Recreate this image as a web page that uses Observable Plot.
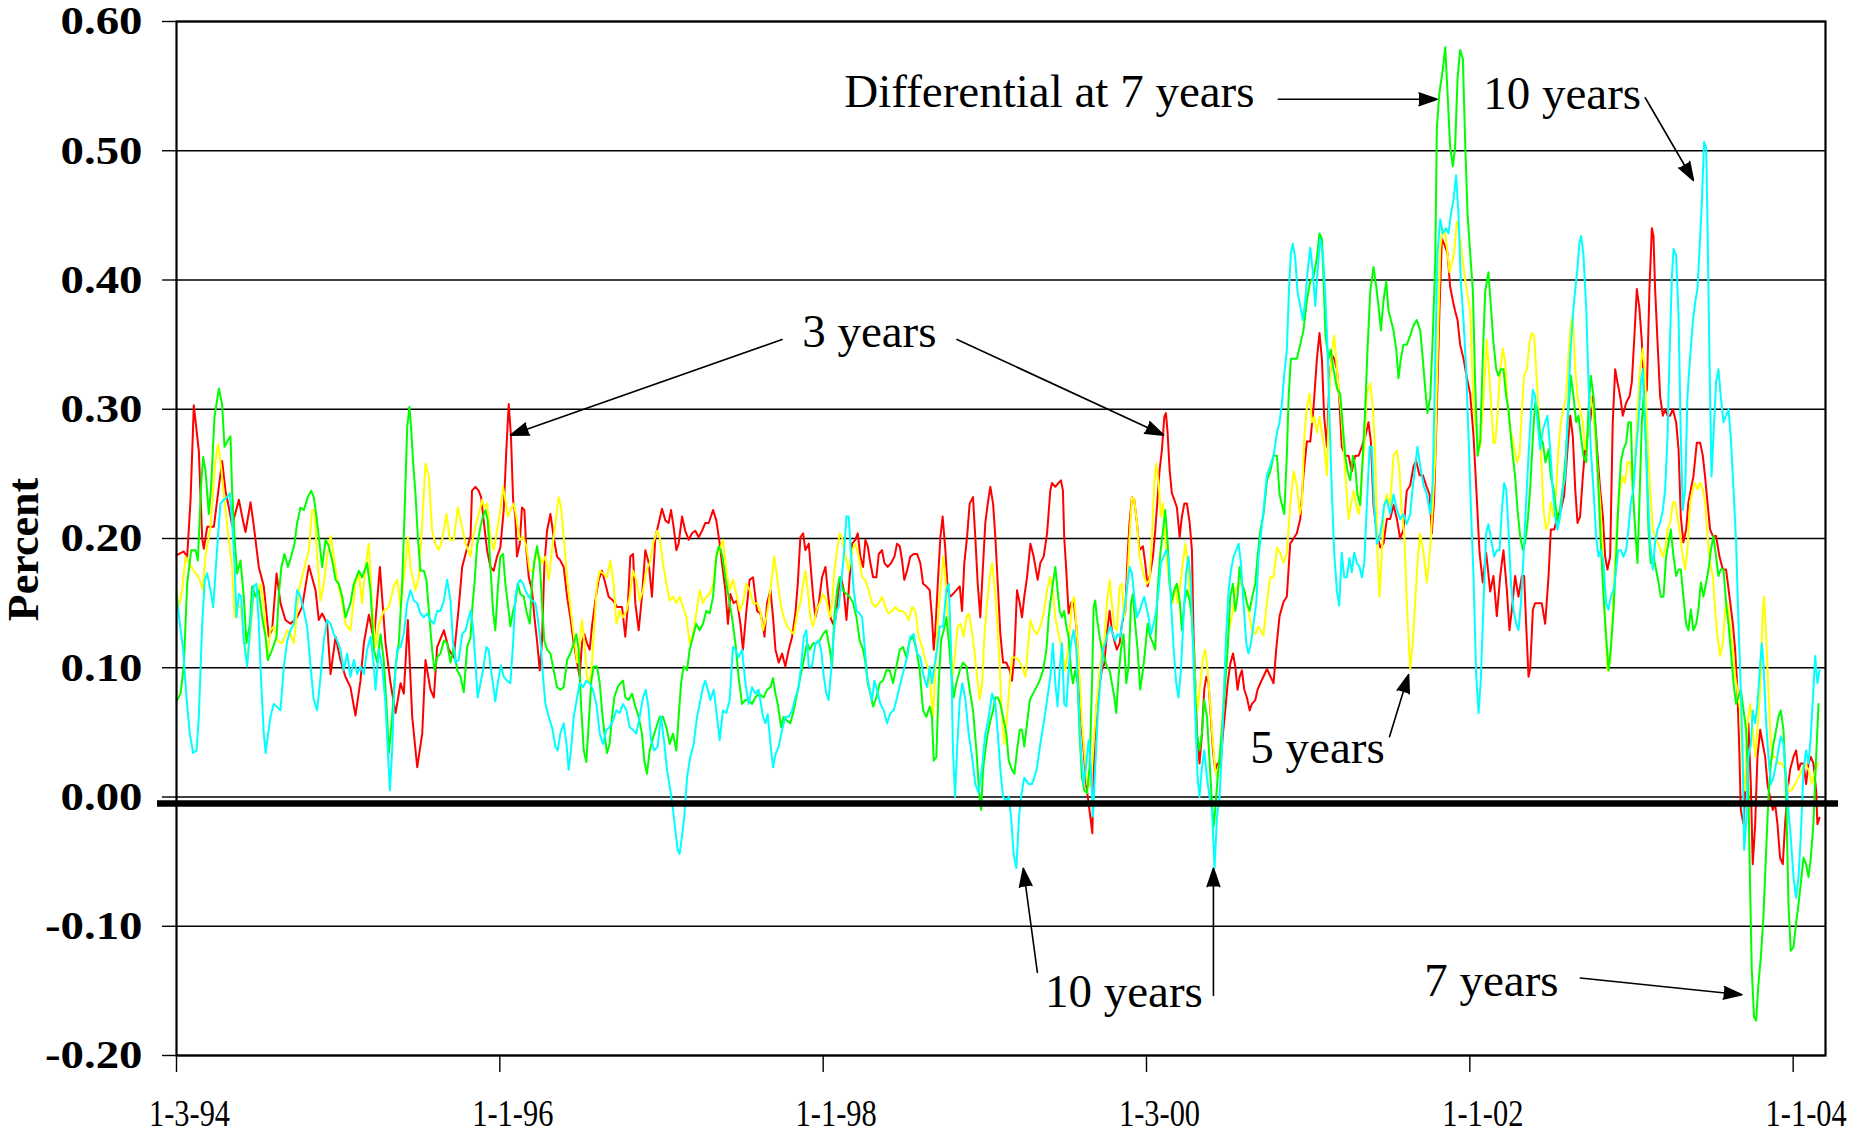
<!DOCTYPE html>
<html>
<head>
<meta charset="utf-8">
<script src="https://cdn.jsdelivr.net/npm/d3@7"></script>
<script src="https://cdn.jsdelivr.net/npm/@observablehq/plot@0.6"></script>
<style>
  html, body { margin: 0; padding: 0; background: #ffffff; }
  svg { display: block; }
</style>
</head>
<body>
<div id="chart"></div>
<script>
// ---------------- DATA (decimal year, percent) ----------------
const series3y = [
[1994.000,0.187],[1994.045,0.190],[1994.066,0.186],[1994.087,0.230],[1994.107,0.303],[1994.138,0.268],[1994.159,0.200],[1994.169,0.192],[1994.190,0.209],[1994.231,0.209],[1994.282,0.260],[1994.303,0.237],[1994.324,0.224],[1994.344,0.210],[1994.386,0.230],[1994.406,0.217],[1994.427,0.205],[1994.458,0.228],[1994.478,0.210],[1994.509,0.178],[1994.540,0.163],[1994.571,0.124],[1994.592,0.130],[1994.619,0.173],[1994.643,0.150],[1994.674,0.137],[1994.705,0.134],[1994.746,0.139],[1994.777,0.147],[1994.819,0.179],[1994.860,0.160],[1994.880,0.137],[1994.901,0.142],[1994.932,0.134],[1994.953,0.095],[1994.984,0.124],[1995.014,0.106],[1995.045,0.093],[1995.076,0.085],[1995.107,0.063],[1995.138,0.090],[1995.159,0.119],[1995.190,0.141],[1995.221,0.121],[1995.258,0.178],[1995.293,0.119],[1995.324,0.088],[1995.355,0.065],[1995.386,0.088],[1995.406,0.080],[1995.431,0.137],[1995.458,0.062],[1995.489,0.023],[1995.520,0.049],[1995.540,0.106],[1995.571,0.083],[1995.592,0.077],[1995.612,0.116],[1995.654,0.129],[1995.685,0.114],[1995.715,0.108],[1995.746,0.147],[1995.767,0.178],[1995.788,0.188],[1995.819,0.202],
[1995.828,0.237],[1995.849,0.240],[1995.869,0.237],[1995.884,0.232],[1995.900,0.214],[1995.921,0.191],[1995.942,0.178],[1995.962,0.175],[1995.983,0.186],[1996.003,0.193],[1996.024,0.222],[1996.040,0.268],[1996.055,0.304],[1996.069,0.279],[1996.082,0.230],[1996.096,0.217],[1996.106,0.186],[1996.123,0.196],[1996.137,0.224],[1996.152,0.222],[1996.164,0.191],[1996.179,0.170],[1996.199,0.160],[1996.214,0.139],[1996.230,0.121],[1996.247,0.098],[1996.261,0.121],[1996.275,0.178],[1996.292,0.206],[1996.313,0.219],[1996.333,0.201],[1996.354,0.186],[1996.374,0.183],[1996.395,0.178],[1996.416,0.155],[1996.436,0.139],[1996.457,0.119],[1996.478,0.104],[1996.494,0.093],[1996.508,0.119],[1996.523,0.126],[1996.539,0.119],[1996.556,0.114],[1996.570,0.132],[1996.591,0.152],[1996.611,0.168],[1996.632,0.175],[1996.653,0.165],[1996.673,0.155],[1996.700,0.152],[1996.725,0.147],[1996.756,0.147],[1996.776,0.124],[1996.791,0.147],[1996.807,0.186],[1996.824,0.188],[1996.838,0.150],[1996.859,0.129],[1996.879,0.155],[1996.900,0.191],[1996.921,0.181],[1996.941,0.155],[1996.962,0.201],[1996.983,0.212],[1997.003,0.223],[1997.024,0.214],[1997.044,0.212],[1997.059,0.222],[1997.075,0.209],[1997.092,0.191],[1997.106,0.196],[1997.127,0.217],[1997.147,0.206],[1997.168,0.199],[1997.189,0.204],[1997.209,0.206],[1997.230,0.201],[1997.251,0.206],[1997.271,0.212],[1997.292,0.212],[1997.319,0.222],[1997.339,0.214],[1997.360,0.196],[1997.374,0.181],[1997.395,0.160],[1997.411,0.134],[1997.426,0.157],[1997.446,0.150],[1997.467,0.152],[1997.488,0.134],[1997.504,0.114],[1997.525,0.144],[1997.545,0.168],[1997.566,0.170],[1997.591,0.144],[1997.611,0.142],
[1997.622,0.137],[1997.637,0.124],[1997.653,0.150],[1997.674,0.160],[1997.690,0.139],[1997.705,0.114],[1997.725,0.104],[1997.746,0.111],[1997.766,0.101],[1997.787,0.114],[1997.808,0.124],[1997.828,0.142],[1997.843,0.165],[1997.859,0.201],[1997.876,0.204],[1997.890,0.191],[1997.911,0.196],[1997.921,0.181],[1997.938,0.155],[1997.952,0.139],[1997.973,0.150],[1997.993,0.170],[1998.014,0.178],[1998.028,0.160],[1998.045,0.139],[1998.061,0.134],[1998.076,0.137],[1998.096,0.160],[1998.111,0.170],[1998.127,0.160],[1998.144,0.137],[1998.158,0.160],[1998.179,0.196],[1998.199,0.199],[1998.214,0.204],[1998.230,0.186],[1998.247,0.178],[1998.261,0.199],[1998.276,0.194],[1998.292,0.181],[1998.309,0.170],[1998.329,0.170],[1998.344,0.188],[1998.364,0.191],[1998.379,0.181],[1998.399,0.178],[1998.420,0.181],[1998.441,0.186],[1998.457,0.196],[1998.474,0.194],[1998.488,0.183],[1998.502,0.168],[1998.519,0.175],[1998.539,0.186],[1998.560,0.188],[1998.581,0.188],[1998.601,0.181],[1998.618,0.165],[1998.638,0.163],[1998.659,0.160],[1998.673,0.139],[1998.684,0.114],[1998.694,0.129],[1998.709,0.165],[1998.725,0.201],[1998.739,0.217],[1998.756,0.191],[1998.770,0.160],[1998.787,0.155],[1998.803,0.157],[1998.824,0.160],[1998.845,0.163],[1998.859,0.144],[1998.873,0.181],[1998.890,0.201],[1998.906,0.227],[1998.927,0.232],[1998.941,0.201],[1998.956,0.165],[1998.972,0.139],[1998.987,0.175],[1999.003,0.212],[1999.018,0.227],[1999.034,0.240],[1999.051,0.227],[1999.065,0.201],[1999.080,0.165],[1999.096,0.126],[1999.113,0.104],[1999.133,0.104],[1999.154,0.098],[1999.168,0.090],[1999.183,0.111],[1999.199,0.160],[1999.216,0.150],[1999.230,0.139],[1999.244,0.155],[1999.261,0.170],[1999.282,0.196],[1999.302,0.186],[1999.327,0.168],[1999.343,0.181],[1999.364,0.186],[1999.385,0.204],[1999.405,0.237],
[1999.415,0.243],[1999.436,0.240],[1999.456,0.243],[1999.471,0.245],[1999.483,0.237],[1999.491,0.201],[1999.504,0.175],[1999.518,0.142],[1999.533,0.150],[1999.549,0.152],[1999.566,0.132],[1999.580,0.101],[1999.594,0.062],[1999.611,0.036],[1999.627,0.010],[1999.642,-0.005],[1999.665,-0.028],[1999.677,0.036],[1999.693,0.072],[1999.710,0.088],[1999.724,0.098],[1999.739,0.103],[1999.755,0.126],[1999.772,0.144],[1999.786,0.129],[1999.801,0.121],[1999.817,0.114],[1999.834,0.119],[1999.848,0.134],[1999.869,0.144],[1999.883,0.186],[1999.895,0.212],[1999.910,0.232],[1999.924,0.230],[1999.941,0.212],[1999.957,0.191],[1999.978,0.194],[1999.992,0.181],[2000.007,0.163],[2000.023,0.173],[2000.040,0.186],[2000.054,0.206],[2000.069,0.232],[2000.081,0.253],[2000.095,0.268],[2000.110,0.294],[2000.120,0.297],[2000.130,0.283],[2000.143,0.253],[2000.157,0.235],[2000.172,0.230],[2000.188,0.224],[2000.205,0.201],[2000.219,0.217],[2000.234,0.227],[2000.250,0.227],[2000.267,0.212],[2000.281,0.191],[2000.291,0.126],[2000.302,0.088],[2000.312,0.049],[2000.328,0.026],[2000.343,0.049],[2000.357,0.083],[2000.370,0.093],[2000.384,0.088],[2000.398,0.062],[2000.411,0.036],[2000.425,0.021],[2000.440,0.026],[2000.456,0.023],[2000.473,0.049],[2000.487,0.067],[2000.502,0.088],[2000.518,0.103],[2000.535,0.111],[2000.549,0.101],[2000.563,0.083],[2000.576,0.093],[2000.590,0.098],[2000.605,0.083],[2000.621,0.077],[2000.638,0.067],[2000.652,0.072],[2000.673,0.075],[2000.687,0.083],[2000.704,0.088],
[2000.745,0.099],[2000.786,0.088],[2000.802,0.114],[2000.823,0.140],[2000.848,0.151],[2000.868,0.155],[2000.889,0.196],[2000.910,0.200],[2000.930,0.204],[2000.951,0.215],[2000.971,0.249],[2000.992,0.275],[2001.013,0.275],[2001.033,0.301],[2001.054,0.339],[2001.070,0.359],[2001.085,0.339],[2001.099,0.294],[2001.116,0.271],[2001.132,0.324],[2001.147,0.342],[2001.161,0.339],[2001.178,0.331],[2001.194,0.305],[2001.208,0.271],[2001.229,0.264],[2001.250,0.264],[2001.270,0.252],[2001.291,0.264],[2001.312,0.264],[2001.332,0.271],[2001.353,0.279],[2001.373,0.290],[2001.388,0.275],[2001.404,0.226],[2001.425,0.204],[2001.446,0.193],[2001.466,0.196],[2001.487,0.215],[2001.507,0.215],[2001.528,0.226],[2001.549,0.215],[2001.569,0.200],[2001.590,0.207],[2001.610,0.237],[2001.631,0.241],[2001.652,0.256],[2001.668,0.260],[2001.689,0.249],[2001.709,0.249],[2001.730,0.241],[2001.751,0.234],[2001.765,0.204],[2001.779,0.230],[2001.796,0.301],[2001.812,0.376],[2001.827,0.432],[2001.841,0.428],[2001.862,0.421],[2001.878,0.395],[2001.895,0.384],[2001.909,0.376],[2001.924,0.369],[2001.940,0.350],[2001.961,0.339],[2001.982,0.324],[2002.002,0.312],[2002.023,0.279],[2002.039,0.241],[2002.060,0.189],[2002.080,0.166],[2002.101,0.189],[2002.126,0.159],
[2002.146,0.171],[2002.167,0.140],[2002.188,0.171],[2002.208,0.191],[2002.229,0.160],[2002.245,0.129],[2002.260,0.145],[2002.280,0.171],[2002.301,0.155],[2002.322,0.171],[2002.336,0.171],[2002.348,0.134],[2002.363,0.093],[2002.373,0.099],[2002.390,0.145],[2002.404,0.150],[2002.425,0.150],[2002.445,0.150],[2002.466,0.134],[2002.487,0.171],[2002.501,0.207],[2002.522,0.207],[2002.542,0.217],[2002.563,0.222],[2002.583,0.233],[2002.604,0.269],[2002.621,0.295],[2002.637,0.279],[2002.652,0.238],[2002.666,0.212],[2002.682,0.217],[2002.699,0.248],[2002.713,0.269],[2002.728,0.279],[2002.744,0.290],[2002.761,0.310],[2002.775,0.290],[2002.790,0.264],[2002.806,0.238],[2002.823,0.217],[2002.837,0.186],[2002.851,0.176],[2002.868,0.186],[2002.884,0.290],[2002.899,0.331],[2002.913,0.321],[2002.930,0.310],[2002.946,0.295],[2002.967,0.305],[2002.988,0.310],[2003.002,0.321],[2003.016,0.352],[2003.033,0.393],[2003.049,0.378],[2003.064,0.352],[2003.078,0.310],[2003.095,0.315],[2003.111,0.393],[2003.126,0.440],[2003.136,0.434],[2003.146,0.393],[2003.161,0.352],[2003.177,0.310],[2003.194,0.295],[2003.208,0.300],[2003.223,0.295],[2003.239,0.295],[2003.256,0.300],[2003.276,0.290],[2003.291,0.269],[2003.305,0.217],[2003.321,0.197],[2003.338,0.207],[2003.352,0.228],[2003.367,0.238],[2003.383,0.248],[2003.404,0.274],[2003.425,0.274],[2003.441,0.264],[2003.455,0.248],[2003.470,0.228],[2003.486,0.207],[2003.503,0.202],[2003.523,0.202],[2003.544,0.186],[2003.565,0.176],[2003.585,0.176],[2003.606,0.155],[2003.627,0.134],[2003.641,0.114],[2003.655,0.083],[2003.668,0.031],[2003.676,-0.010],[2003.693,-0.021],[2003.709,0.021],[2003.723,0.057],[2003.738,0.010],[2003.750,-0.052],[2003.765,-0.021],[2003.779,0.031],[2003.796,0.052],[2003.812,0.041],[2003.827,0.031],[2003.841,0.010],[2003.857,0.000],[2003.874,-0.010],[2003.888,-0.005],[2003.903,-0.021],[2003.919,-0.047],[2003.936,-0.052],[2003.950,-0.021],[2003.965,0.005],[2003.981,0.021],[2004.002,0.031],[2004.018,0.036],[2004.033,0.021],[2004.047,0.026],[2004.064,0.026],[2004.080,0.010],[2004.095,0.026],[2004.109,0.031],[2004.125,0.026],[2004.142,0.005],[2004.150,-0.021],[2004.163,-0.016]
];

const series5y = [
[1994.000,0.160],[1994.014,0.147],[1994.035,0.160],[1994.056,0.186],[1994.076,0.181],[1994.107,0.175],[1994.138,0.170],[1994.163,0.160],[1994.179,0.186],[1994.210,0.209],[1994.241,0.261],[1994.258,0.273],[1994.276,0.255],[1994.303,0.222],[1994.330,0.192],[1994.344,0.178],[1994.359,0.139],[1994.375,0.149],[1994.396,0.147],[1994.416,0.126],[1994.437,0.104],[1994.454,0.124],[1994.478,0.155],[1994.503,0.160],[1994.520,0.165],[1994.540,0.149],[1994.561,0.108],[1994.581,0.129],[1994.602,0.132],[1994.623,0.121],[1994.654,0.119],[1994.685,0.129],[1994.705,0.126],[1994.726,0.119],[1994.757,0.160],[1994.777,0.170],[1994.798,0.181],[1994.819,0.191],[1994.839,0.222],[1994.854,0.222],[1994.870,0.186],[1994.891,0.152],[1994.911,0.165],[1994.932,0.186],[1994.953,0.202],[1994.973,0.186],[1994.994,0.168],[1995.025,0.150],[1995.045,0.134],[1995.076,0.129],[1995.107,0.165],[1995.128,0.173],[1995.148,0.150],[1995.169,0.178],[1995.190,0.196],[1995.210,0.147],[1995.231,0.116],[1995.252,0.134],[1995.282,0.144],[1995.313,0.147],[1995.344,0.163],[1995.365,0.168],[1995.386,0.147],[1995.406,0.170],[1995.431,0.201],[1995.447,0.178],[1995.478,0.160],[1995.499,0.170],[1995.520,0.212],[1995.540,0.258],[1995.561,0.248],[1995.581,0.206],[1995.602,0.196],[1995.623,0.191],[1995.643,0.199],[1995.670,0.219],[1995.691,0.199],[1995.715,0.199],[1995.740,0.224],[1995.761,0.212],[1995.788,0.196],[1995.819,0.186],
[1995.834,0.201],[1995.855,0.212],[1995.876,0.222],[1995.890,0.230],[1995.904,0.224],[1995.921,0.227],[1995.942,0.201],[1995.962,0.191],[1995.983,0.206],[1996.003,0.222],[1996.020,0.240],[1996.034,0.230],[1996.049,0.217],[1996.065,0.222],[1996.086,0.227],[1996.102,0.217],[1996.123,0.199],[1996.144,0.201],[1996.164,0.194],[1996.185,0.175],[1996.205,0.175],[1996.226,0.188],[1996.247,0.186],[1996.261,0.181],[1996.282,0.186],[1996.302,0.168],[1996.323,0.191],[1996.344,0.212],[1996.364,0.232],[1996.379,0.224],[1996.395,0.201],[1996.416,0.170],[1996.436,0.147],[1996.457,0.126],[1996.478,0.104],[1996.494,0.119],[1996.508,0.137],[1996.523,0.119],[1996.539,0.093],[1996.556,0.088],[1996.570,0.104],[1996.585,0.134],[1996.601,0.165],[1996.618,0.175],[1996.638,0.173],[1996.663,0.170],[1996.684,0.183],[1996.704,0.165],[1996.721,0.134],[1996.741,0.144],[1996.762,0.139],[1996.783,0.144],[1996.803,0.155],[1996.824,0.175],[1996.844,0.168],[1996.865,0.152],[1996.886,0.160],[1996.906,0.175],[1996.927,0.181],[1996.948,0.196],[1996.972,0.206],[1996.989,0.201],[1997.009,0.181],[1997.030,0.165],[1997.051,0.152],[1997.071,0.155],[1997.092,0.150],[1997.112,0.155],[1997.133,0.147],[1997.154,0.139],[1997.174,0.119],[1997.195,0.126],[1997.215,0.142],[1997.236,0.160],[1997.257,0.150],[1997.277,0.155],[1997.298,0.157],[1997.319,0.165],[1997.339,0.186],[1997.360,0.191],[1997.380,0.199],[1997.401,0.175],[1997.422,0.160],[1997.442,0.168],[1997.463,0.157],[1997.483,0.144],[1997.504,0.150],[1997.525,0.165],[1997.545,0.160],[1997.566,0.150],[1997.591,0.150],[1997.611,0.144],
[1997.628,0.129],[1997.649,0.139],[1997.663,0.150],[1997.678,0.165],[1997.698,0.186],[1997.715,0.170],[1997.736,0.150],[1997.756,0.139],[1997.777,0.132],[1997.797,0.129],[1997.818,0.126],[1997.839,0.142],[1997.859,0.150],[1997.876,0.165],[1997.890,0.175],[1997.905,0.160],[1997.921,0.139],[1997.938,0.132],[1997.958,0.144],[1997.979,0.150],[1997.999,0.157],[1998.020,0.152],[1998.041,0.139],[1998.055,0.150],[1998.069,0.175],[1998.086,0.191],[1998.102,0.204],[1998.117,0.201],[1998.138,0.186],[1998.158,0.175],[1998.179,0.191],[1998.199,0.196],[1998.220,0.186],[1998.241,0.170],[1998.261,0.168],[1998.282,0.160],[1998.302,0.150],[1998.323,0.147],[1998.344,0.150],[1998.364,0.155],[1998.385,0.147],[1998.405,0.142],[1998.426,0.144],[1998.447,0.147],[1998.467,0.144],[1998.488,0.144],[1998.509,0.142],[1998.529,0.137],[1998.550,0.147],[1998.570,0.144],[1998.591,0.124],[1998.612,0.116],[1998.632,0.106],[1998.653,0.098],[1998.667,0.080],[1998.680,0.062],[1998.694,0.098],[1998.709,0.137],[1998.725,0.160],[1998.742,0.186],[1998.756,0.170],[1998.770,0.139],[1998.787,0.116],[1998.803,0.095],[1998.818,0.114],[1998.832,0.132],[1998.849,0.134],[1998.869,0.124],[1998.886,0.139],[1998.902,0.142],[1998.919,0.129],[1998.935,0.114],[1998.952,0.093],[1998.968,0.075],[1998.983,0.088],[1998.997,0.124],[1999.014,0.150],[1999.030,0.170],[1999.045,0.181],[1999.059,0.165],[1999.075,0.139],[1999.092,0.101],[1999.106,0.062],[1999.121,0.041],[1999.137,0.062],[1999.154,0.088],[1999.168,0.108],[1999.189,0.108],[1999.209,0.106],[1999.230,0.101],[1999.251,0.093],[1999.265,0.114],[1999.282,0.137],[1999.302,0.129],[1999.323,0.126],[1999.343,0.132],[1999.364,0.142],[1999.385,0.160],[1999.405,0.170],
[1999.421,0.160],[1999.436,0.139],[1999.456,0.126],[1999.477,0.114],[1999.498,0.098],[1999.518,0.119],[1999.539,0.150],[1999.553,0.155],[1999.570,0.126],[1999.586,0.093],[1999.601,0.057],[1999.615,0.036],[1999.632,0.010],[1999.648,0.008],[1999.663,0.023],[1999.677,0.049],[1999.693,0.075],[1999.710,0.098],[1999.724,0.114],[1999.739,0.121],[1999.755,0.150],[1999.772,0.168],[1999.786,0.150],[1999.801,0.132],[1999.817,0.129],[1999.834,0.163],[1999.848,0.165],[1999.862,0.139],[1999.879,0.160],[1999.895,0.201],[1999.910,0.232],[1999.924,0.230],[1999.941,0.212],[1999.957,0.186],[1999.972,0.178],[1999.986,0.170],[2000.003,0.165],[2000.019,0.168],[2000.034,0.201],[2000.048,0.243],[2000.060,0.258],[2000.075,0.243],[2000.089,0.217],[2000.102,0.227],[2000.116,0.201],[2000.130,0.178],[2000.147,0.160],[2000.163,0.150],[2000.178,0.163],[2000.192,0.150],[2000.209,0.165],[2000.225,0.181],[2000.240,0.196],[2000.254,0.181],[2000.271,0.150],[2000.287,0.124],[2000.302,0.088],[2000.316,0.067],[2000.333,0.088],[2000.349,0.108],[2000.363,0.114],[2000.378,0.098],[2000.394,0.072],[2000.411,0.041],[2000.425,0.021],[2000.440,0.015],[2000.456,0.036],[2000.473,0.070],[2000.487,0.098],[2000.502,0.124],[2000.518,0.134],[2000.535,0.144],[2000.549,0.160],[2000.570,0.165],[2000.590,0.165],[2000.605,0.160],[2000.621,0.150],[2000.638,0.139],[2000.652,0.129],[2000.673,0.126],[2000.693,0.132],
[2000.724,0.125],[2000.745,0.151],[2000.765,0.170],[2000.786,0.170],[2000.807,0.193],[2000.827,0.189],[2000.848,0.181],[2000.868,0.189],[2000.889,0.226],[2000.910,0.252],[2000.930,0.241],[2000.947,0.219],[2000.961,0.226],[2000.976,0.279],[2000.992,0.301],[2001.009,0.312],[2001.023,0.290],[2001.037,0.294],[2001.054,0.282],[2001.070,0.294],[2001.085,0.282],[2001.099,0.271],[2001.116,0.249],[2001.132,0.316],[2001.147,0.346],[2001.161,0.357],[2001.173,0.339],[2001.188,0.316],[2001.202,0.301],[2001.219,0.271],[2001.235,0.241],[2001.250,0.215],[2001.264,0.226],[2001.281,0.237],[2001.297,0.226],[2001.314,0.219],[2001.332,0.252],[2001.347,0.271],[2001.363,0.312],[2001.384,0.320],[2001.400,0.301],[2001.415,0.264],[2001.429,0.189],[2001.441,0.155],[2001.456,0.189],[2001.470,0.226],[2001.487,0.234],[2001.507,0.226],[2001.528,0.264],[2001.549,0.268],[2001.565,0.252],[2001.580,0.219],[2001.594,0.204],[2001.610,0.151],[2001.631,0.099],[2001.648,0.121],[2001.662,0.151],[2001.676,0.181],[2001.693,0.204],[2001.714,0.189],[2001.734,0.166],[2001.755,0.193],[2001.771,0.226],[2001.786,0.264],[2001.800,0.339],[2001.817,0.425],[2001.833,0.440],[2001.848,0.436],[2001.862,0.421],[2001.874,0.406],[2001.889,0.413],[2001.903,0.421],[2001.920,0.445],[2001.934,0.438],[2001.951,0.421],[2001.965,0.406],[2001.982,0.391],[2002.002,0.376],[2002.023,0.301],[2002.043,0.279],[2002.064,0.271],[2002.085,0.309],[2002.105,0.354],[2002.126,0.316],
[2002.146,0.274],[2002.157,0.274],[2002.171,0.295],[2002.188,0.331],[2002.204,0.347],[2002.219,0.336],[2002.233,0.305],[2002.250,0.284],[2002.270,0.274],[2002.291,0.259],[2002.307,0.264],[2002.322,0.300],[2002.336,0.326],[2002.353,0.331],[2002.369,0.352],[2002.384,0.359],[2002.398,0.357],[2002.410,0.331],[2002.425,0.300],[2002.439,0.269],[2002.456,0.222],[2002.472,0.207],[2002.487,0.212],[2002.501,0.228],[2002.518,0.217],[2002.534,0.238],[2002.548,0.269],[2002.563,0.290],[2002.579,0.300],[2002.596,0.310],[2002.610,0.341],[2002.625,0.367],[2002.637,0.372],[2002.652,0.331],[2002.666,0.310],[2002.682,0.300],[2002.699,0.290],[2002.713,0.269],[2002.728,0.279],[2002.744,0.310],[2002.761,0.300],[2002.775,0.279],[2002.790,0.253],[2002.806,0.228],[2002.823,0.186],[2002.837,0.134],[2002.851,0.098],[2002.868,0.104],[2002.884,0.145],[2002.899,0.186],[2002.913,0.217],[2002.930,0.238],[2002.946,0.248],[2002.961,0.243],[2002.975,0.259],[2002.992,0.259],[2003.008,0.238],[2003.023,0.264],[2003.037,0.300],[2003.053,0.331],[2003.070,0.347],[2003.084,0.326],[2003.099,0.279],[2003.115,0.238],[2003.132,0.207],[2003.146,0.202],[2003.161,0.197],[2003.177,0.192],[2003.194,0.186],[2003.208,0.192],[2003.223,0.207],[2003.239,0.212],[2003.256,0.228],[2003.270,0.228],[2003.284,0.217],[2003.301,0.202],[2003.317,0.186],[2003.332,0.176],[2003.346,0.192],[2003.363,0.228],[2003.379,0.238],[2003.394,0.243],[2003.408,0.238],[2003.425,0.243],[2003.441,0.238],[2003.455,0.228],[2003.470,0.202],[2003.486,0.181],[2003.503,0.171],[2003.517,0.145],[2003.532,0.124],[2003.548,0.109],[2003.565,0.119],[2003.579,0.145],[2003.594,0.150],[2003.610,0.134],[2003.627,0.114],[2003.641,0.093],[2003.655,0.083],[2003.672,0.067],[2003.688,0.021],[2003.703,0.005],[2003.717,0.057],[2003.734,0.072],[2003.750,0.052],[2003.765,0.031],[2003.779,0.052],[2003.796,0.083],[2003.812,0.145],[2003.820,0.155],[2003.833,0.124],[2003.847,0.083],[2003.862,0.041],[2003.878,0.031],[2003.895,0.031],[2003.909,0.026],[2003.930,0.026],[2003.950,0.021],[2003.971,0.005],[2003.991,0.005],[2004.012,0.010],[2004.033,0.015],[2004.053,0.021],[2004.074,0.026],[2004.095,0.021],[2004.115,0.010],[2004.136,0.021],[2004.156,0.026]
];

const series7y = [
[1994.000,0.074],[1994.025,0.080],[1994.045,0.101],[1994.066,0.165],[1994.091,0.191],[1994.118,0.191],[1994.132,0.183],[1994.153,0.243],[1994.165,0.263],[1994.179,0.253],[1994.200,0.219],[1994.214,0.240],[1994.235,0.294],[1994.262,0.316],[1994.282,0.304],[1994.297,0.271],[1994.318,0.276],[1994.334,0.279],[1994.344,0.237],[1994.359,0.201],[1994.375,0.173],[1994.396,0.183],[1994.416,0.155],[1994.433,0.119],[1994.454,0.134],[1994.468,0.163],[1994.489,0.155],[1994.509,0.160],[1994.530,0.139],[1994.551,0.124],[1994.565,0.106],[1994.592,0.114],[1994.619,0.124],[1994.633,0.157],[1994.649,0.178],[1994.668,0.188],[1994.689,0.178],[1994.709,0.186],[1994.730,0.196],[1994.746,0.212],[1994.767,0.224],[1994.788,0.222],[1994.812,0.232],[1994.833,0.237],[1994.849,0.232],[1994.866,0.217],[1994.885,0.196],[1994.901,0.178],[1994.922,0.199],[1994.942,0.194],[1994.963,0.183],[1994.984,0.168],[1995.004,0.165],[1995.025,0.155],[1995.045,0.139],[1995.076,0.150],[1995.097,0.165],[1995.128,0.175],[1995.148,0.170],[1995.179,0.181],[1995.200,0.160],[1995.221,0.114],[1995.241,0.104],[1995.262,0.126],[1995.282,0.106],[1995.303,0.062],[1995.313,0.034],[1995.334,0.062],[1995.355,0.101],[1995.375,0.119],[1995.396,0.165],[1995.410,0.217],[1995.427,0.286],[1995.441,0.302],[1995.452,0.284],[1995.464,0.258],[1995.478,0.235],[1995.493,0.201],[1995.509,0.175],[1995.530,0.175],[1995.546,0.168],[1995.561,0.144],[1995.581,0.114],[1995.596,0.098],[1995.612,0.108],[1995.633,0.111],[1995.654,0.121],[1995.674,0.119],[1995.695,0.104],[1995.715,0.116],[1995.736,0.098],[1995.757,0.093],[1995.777,0.081],[1995.798,0.116],[1995.819,0.124],
[1995.828,0.144],[1995.843,0.165],[1995.859,0.194],[1995.880,0.209],[1995.896,0.217],[1995.911,0.222],[1995.925,0.214],[1995.942,0.178],[1995.958,0.144],[1995.972,0.129],[1995.987,0.160],[1996.003,0.186],[1996.020,0.188],[1996.034,0.165],[1996.049,0.150],[1996.065,0.132],[1996.082,0.144],[1996.096,0.150],[1996.111,0.165],[1996.127,0.157],[1996.148,0.155],[1996.164,0.144],[1996.185,0.134],[1996.199,0.165],[1996.214,0.183],[1996.230,0.194],[1996.247,0.181],[1996.261,0.150],[1996.275,0.121],[1996.292,0.114],[1996.313,0.111],[1996.333,0.098],[1996.354,0.085],[1996.374,0.083],[1996.395,0.085],[1996.416,0.106],[1996.436,0.111],[1996.457,0.119],[1996.473,0.126],[1996.488,0.114],[1996.502,0.072],[1996.519,0.036],[1996.535,0.027],[1996.550,0.057],[1996.566,0.090],[1996.581,0.101],[1996.601,0.101],[1996.618,0.088],[1996.632,0.067],[1996.647,0.049],[1996.663,0.034],[1996.679,0.041],[1996.694,0.062],[1996.708,0.077],[1996.729,0.085],[1996.745,0.088],[1996.762,0.090],[1996.776,0.077],[1996.797,0.075],[1996.818,0.080],[1996.838,0.070],[1996.859,0.062],[1996.879,0.049],[1996.894,0.028],[1996.910,0.018],[1996.927,0.036],[1996.948,0.046],[1996.968,0.054],[1996.989,0.062],[1997.009,0.062],[1997.030,0.054],[1997.051,0.041],[1997.071,0.049],[1997.092,0.036],[1997.106,0.062],[1997.121,0.088],[1997.137,0.101],[1997.158,0.098],[1997.174,0.114],[1997.195,0.124],[1997.215,0.134],[1997.236,0.129],[1997.257,0.134],[1997.277,0.144],[1997.298,0.142],[1997.319,0.155],[1997.339,0.186],[1997.354,0.194],[1997.374,0.188],[1997.395,0.170],[1997.415,0.155],[1997.436,0.139],[1997.457,0.119],[1997.477,0.093],[1997.498,0.072],[1997.519,0.075],[1997.539,0.075],[1997.560,0.072],[1997.580,0.077],[1997.601,0.080],
[1997.632,0.077],[1997.653,0.083],[1997.674,0.085],[1997.690,0.092],[1997.705,0.080],[1997.719,0.072],[1997.740,0.054],[1997.756,0.062],[1997.777,0.059],[1997.797,0.057],[1997.818,0.067],[1997.839,0.080],[1997.859,0.093],[1997.880,0.106],[1997.900,0.119],[1997.917,0.114],[1997.938,0.119],[1997.958,0.119],[1997.979,0.121],[1997.999,0.126],[1998.020,0.129],[1998.041,0.114],[1998.055,0.101],[1998.069,0.139],[1998.086,0.160],[1998.102,0.170],[1998.123,0.160],[1998.144,0.157],[1998.164,0.155],[1998.185,0.150],[1998.206,0.139],[1998.226,0.121],[1998.247,0.114],[1998.261,0.104],[1998.276,0.088],[1998.292,0.080],[1998.309,0.070],[1998.329,0.077],[1998.350,0.088],[1998.370,0.090],[1998.391,0.098],[1998.412,0.098],[1998.432,0.088],[1998.453,0.101],[1998.474,0.114],[1998.494,0.116],[1998.515,0.108],[1998.535,0.121],[1998.556,0.124],[1998.577,0.114],[1998.597,0.098],[1998.618,0.067],[1998.638,0.062],[1998.659,0.070],[1998.673,0.062],[1998.684,0.028],[1998.700,0.031],[1998.715,0.088],[1998.729,0.121],[1998.746,0.129],[1998.762,0.139],[1998.777,0.121],[1998.791,0.098],[1998.807,0.077],[1998.824,0.088],[1998.845,0.098],[1998.865,0.104],[1998.886,0.101],[1998.906,0.083],[1998.927,0.067],[1998.948,0.036],[1998.964,0.005],[1998.977,-0.010],[1998.989,0.021],[1999.003,0.036],[1999.018,0.049],[1999.034,0.059],[1999.051,0.067],[1999.065,0.077],[1999.080,0.077],[1999.096,0.072],[1999.113,0.062],[1999.133,0.049],[1999.148,0.028],[1999.168,0.021],[1999.183,0.018],[1999.199,0.036],[1999.216,0.052],[1999.230,0.052],[1999.244,0.039],[1999.261,0.057],[1999.278,0.075],[1999.298,0.080],[1999.319,0.085],[1999.339,0.090],[1999.360,0.098],[1999.381,0.114],[1999.395,0.139],[1999.405,0.150],
[1999.421,0.165],[1999.436,0.178],[1999.450,0.160],[1999.463,0.144],[1999.477,0.139],[1999.491,0.144],[1999.504,0.132],[1999.518,0.124],[1999.533,0.098],[1999.545,0.088],[1999.559,0.098],[1999.574,0.088],[1999.586,0.049],[1999.601,0.015],[1999.615,0.005],[1999.632,0.003],[1999.648,0.023],[1999.663,0.088],[1999.673,0.147],[1999.683,0.152],[1999.693,0.139],[1999.710,0.124],[1999.724,0.114],[1999.739,0.108],[1999.755,0.101],[1999.772,0.098],[1999.786,0.088],[1999.801,0.077],[1999.813,0.065],[1999.827,0.093],[1999.842,0.114],[1999.858,0.126],[1999.875,0.088],[1999.889,0.101],[1999.904,0.150],[1999.916,0.157],[1999.930,0.134],[1999.945,0.114],[1999.961,0.083],[1999.978,0.098],[1999.992,0.114],[2000.007,0.134],[2000.023,0.124],[2000.040,0.119],[2000.054,0.114],[2000.069,0.160],[2000.085,0.188],[2000.102,0.206],[2000.116,0.222],[2000.130,0.199],[2000.143,0.165],[2000.157,0.152],[2000.172,0.160],[2000.188,0.165],[2000.205,0.152],[2000.219,0.129],[2000.234,0.150],[2000.250,0.160],[2000.267,0.152],[2000.281,0.139],[2000.291,0.114],[2000.302,0.077],[2000.312,0.049],[2000.328,0.036],[2000.343,0.049],[2000.357,0.075],[2000.374,0.062],[2000.390,0.028],[2000.405,-0.005],[2000.415,-0.023],[2000.425,-0.010],[2000.440,0.015],[2000.456,0.036],[2000.473,0.062],[2000.487,0.088],[2000.502,0.114],[2000.518,0.155],[2000.535,0.165],[2000.549,0.144],[2000.563,0.155],[2000.576,0.178],[2000.590,0.165],[2000.605,0.160],[2000.621,0.150],[2000.638,0.144],[2000.654,0.155],[2000.673,0.165],[2000.687,0.186],[2000.704,0.206],
[2000.724,0.219],[2000.745,0.245],[2000.765,0.252],[2000.786,0.264],[2000.807,0.264],[2000.823,0.234],[2000.838,0.226],[2000.852,0.219],[2000.868,0.264],[2000.879,0.309],[2000.893,0.339],[2000.910,0.339],[2000.930,0.339],[2000.951,0.350],[2000.971,0.361],[2000.992,0.384],[2001.013,0.399],[2001.033,0.402],[2001.054,0.417],[2001.070,0.436],[2001.085,0.432],[2001.095,0.402],[2001.107,0.357],[2001.126,0.339],[2001.140,0.346],[2001.157,0.331],[2001.178,0.316],[2001.198,0.312],[2001.215,0.286],[2001.229,0.264],[2001.244,0.252],[2001.260,0.245],[2001.277,0.264],[2001.291,0.256],[2001.305,0.234],[2001.322,0.226],[2001.338,0.264],[2001.353,0.301],[2001.367,0.346],[2001.384,0.391],[2001.404,0.410],[2001.421,0.395],[2001.435,0.380],[2001.450,0.361],[2001.466,0.384],[2001.483,0.399],[2001.497,0.376],[2001.512,0.369],[2001.528,0.361],[2001.545,0.346],[2001.559,0.324],[2001.573,0.339],[2001.590,0.350],[2001.610,0.350],[2001.631,0.357],[2001.652,0.365],[2001.672,0.369],[2001.693,0.361],[2001.709,0.339],[2001.724,0.316],[2001.738,0.297],[2001.755,0.309],[2001.771,0.357],[2001.786,0.413],[2001.796,0.518],[2001.812,0.545],[2001.833,0.563],[2001.848,0.580],[2001.862,0.545],[2001.878,0.503],[2001.895,0.488],[2001.909,0.503],[2001.924,0.556],[2001.940,0.578],[2001.957,0.571],[2001.971,0.507],[2001.986,0.451],[2002.002,0.421],[2002.019,0.391],[2002.033,0.320],[2002.048,0.264],[2002.064,0.275],[2002.080,0.339],[2002.095,0.391],[2002.115,0.406],
[2002.146,0.352],[2002.163,0.331],[2002.177,0.326],[2002.192,0.331],[2002.208,0.331],[2002.225,0.310],[2002.239,0.300],[2002.254,0.279],[2002.266,0.264],[2002.280,0.248],[2002.295,0.222],[2002.311,0.202],[2002.328,0.191],[2002.342,0.197],[2002.357,0.212],[2002.373,0.238],[2002.390,0.279],[2002.404,0.305],[2002.419,0.300],[2002.435,0.279],[2002.452,0.274],[2002.468,0.259],[2002.487,0.269],[2002.501,0.248],[2002.518,0.238],[2002.534,0.222],[2002.548,0.212],[2002.563,0.228],[2002.579,0.243],[2002.596,0.269],[2002.610,0.300],[2002.625,0.326],[2002.641,0.310],[2002.658,0.290],[2002.672,0.295],[2002.687,0.279],[2002.703,0.264],[2002.720,0.259],[2002.734,0.300],[2002.748,0.326],[2002.765,0.310],[2002.781,0.279],[2002.796,0.238],[2002.810,0.197],[2002.827,0.155],[2002.843,0.124],[2002.858,0.098],[2002.872,0.114],[2002.889,0.145],[2002.905,0.186],[2002.919,0.228],[2002.934,0.259],[2002.950,0.269],[2002.967,0.274],[2002.981,0.290],[2002.996,0.290],[2003.008,0.238],[2003.023,0.207],[2003.037,0.181],[2003.049,0.228],[2003.064,0.290],[2003.074,0.310],[2003.091,0.269],[2003.105,0.207],[2003.119,0.181],[2003.136,0.186],[2003.152,0.176],[2003.167,0.166],[2003.181,0.155],[2003.198,0.155],[2003.214,0.186],[2003.229,0.197],[2003.243,0.207],[2003.260,0.186],[2003.276,0.171],[2003.291,0.176],[2003.305,0.176],[2003.321,0.155],[2003.338,0.134],[2003.352,0.129],[2003.367,0.145],[2003.383,0.129],[2003.400,0.134],[2003.414,0.145],[2003.429,0.166],[2003.445,0.155],[2003.462,0.166],[2003.476,0.176],[2003.491,0.191],[2003.507,0.202],[2003.523,0.186],[2003.538,0.171],[2003.552,0.176],[2003.569,0.176],[2003.585,0.150],[2003.600,0.134],[2003.614,0.114],[2003.631,0.088],[2003.647,0.072],[2003.662,0.078],[2003.676,0.083],[2003.693,0.067],[2003.709,0.052],[2003.723,0.005],[2003.734,-0.072],[2003.744,-0.134],[2003.758,-0.170],[2003.771,-0.173],[2003.785,-0.145],[2003.800,-0.124],[2003.816,-0.093],[2003.831,-0.047],[2003.847,0.000],[2003.862,0.026],[2003.878,0.041],[2003.895,0.052],[2003.909,0.062],[2003.923,0.067],[2003.940,0.052],[2003.956,0.005],[2003.971,-0.083],[2003.985,-0.119],[2004.002,-0.116],[2004.018,-0.098],[2004.033,-0.083],[2004.047,-0.067],[2004.064,-0.047],[2004.080,-0.052],[2004.095,-0.062],[2004.109,-0.047],[2004.125,-0.021],[2004.142,0.031],[2004.157,0.072]
];

const series10y = [
[1994.000,0.157],[1994.021,0.134],[1994.041,0.114],[1994.062,0.077],[1994.082,0.049],[1994.103,0.034],[1994.124,0.036],[1994.138,0.062],[1994.159,0.134],[1994.175,0.168],[1994.190,0.173],[1994.210,0.160],[1994.227,0.147],[1994.241,0.173],[1994.258,0.204],[1994.272,0.227],[1994.293,0.230],[1994.313,0.232],[1994.330,0.235],[1994.344,0.212],[1994.359,0.181],[1994.371,0.139],[1994.386,0.157],[1994.400,0.155],[1994.416,0.121],[1994.437,0.101],[1994.458,0.134],[1994.478,0.163],[1994.495,0.165],[1994.509,0.134],[1994.524,0.088],[1994.540,0.049],[1994.551,0.034],[1994.567,0.049],[1994.581,0.062],[1994.602,0.072],[1994.619,0.070],[1994.643,0.067],[1994.664,0.101],[1994.685,0.121],[1994.705,0.129],[1994.726,0.134],[1994.746,0.160],[1994.767,0.155],[1994.788,0.144],[1994.808,0.132],[1994.829,0.101],[1994.849,0.075],[1994.870,0.067],[1994.891,0.093],[1994.911,0.121],[1994.932,0.137],[1994.953,0.134],[1994.973,0.126],[1994.994,0.121],[1995.014,0.114],[1995.035,0.098],[1995.056,0.111],[1995.076,0.093],[1995.097,0.106],[1995.118,0.095],[1995.138,0.101],[1995.159,0.095],[1995.179,0.114],[1995.200,0.124],[1995.221,0.101],[1995.231,0.083],[1995.252,0.114],[1995.272,0.101],[1995.293,0.072],[1995.307,0.036],[1995.320,0.005],[1995.334,0.036],[1995.348,0.088],[1995.365,0.114],[1995.386,0.116],[1995.406,0.126],[1995.427,0.150],[1995.447,0.160],[1995.468,0.152],[1995.489,0.150],[1995.509,0.142],[1995.530,0.139],[1995.551,0.142],[1995.571,0.137],[1995.592,0.134],[1995.612,0.144],[1995.633,0.144],[1995.654,0.152],[1995.674,0.168],[1995.695,0.152],[1995.711,0.119],[1995.726,0.104],[1995.746,0.106],[1995.767,0.126],[1995.788,0.129],[1995.808,0.139],[1995.819,0.144],
[1995.834,0.132],[1995.849,0.104],[1995.863,0.077],[1995.880,0.088],[1995.896,0.098],[1995.917,0.116],[1995.931,0.114],[1995.946,0.098],[1995.962,0.083],[1995.972,0.074],[1995.987,0.088],[1996.007,0.102],[1996.024,0.093],[1996.045,0.090],[1996.065,0.088],[1996.082,0.119],[1996.096,0.155],[1996.111,0.165],[1996.127,0.168],[1996.144,0.165],[1996.158,0.160],[1996.179,0.155],[1996.199,0.152],[1996.220,0.150],[1996.234,0.139],[1996.251,0.121],[1996.267,0.093],[1996.282,0.072],[1996.302,0.062],[1996.323,0.054],[1996.344,0.039],[1996.358,0.036],[1996.374,0.049],[1996.395,0.057],[1996.412,0.041],[1996.426,0.021],[1996.440,0.036],[1996.457,0.062],[1996.478,0.077],[1996.494,0.088],[1996.515,0.085],[1996.535,0.090],[1996.556,0.088],[1996.576,0.083],[1996.597,0.072],[1996.618,0.049],[1996.638,0.041],[1996.659,0.052],[1996.679,0.054],[1996.700,0.059],[1996.721,0.067],[1996.741,0.065],[1996.762,0.072],[1996.783,0.067],[1996.803,0.054],[1996.824,0.052],[1996.844,0.049],[1996.865,0.062],[1996.886,0.077],[1996.902,0.083],[1996.919,0.070],[1996.935,0.044],[1996.956,0.036],[1996.976,0.039],[1996.997,0.062],[1997.018,0.041],[1997.034,0.021],[1997.055,0.005],[1997.071,-0.010],[1997.086,-0.026],[1997.100,-0.041],[1997.112,-0.044],[1997.127,-0.030],[1997.141,-0.015],[1997.158,0.015],[1997.178,0.031],[1997.199,0.041],[1997.220,0.062],[1997.236,0.072],[1997.257,0.085],[1997.271,0.090],[1997.286,0.083],[1997.302,0.075],[1997.323,0.083],[1997.343,0.062],[1997.360,0.044],[1997.380,0.067],[1997.401,0.065],[1997.422,0.075],[1997.442,0.116],[1997.457,0.114],[1997.477,0.108],[1997.498,0.114],[1997.519,0.088],[1997.539,0.072],[1997.560,0.085],[1997.580,0.080],[1997.601,0.083],
[1997.628,0.062],[1997.643,0.057],[1997.657,0.064],[1997.674,0.041],[1997.690,0.023],[1997.705,0.033],[1997.725,0.039],[1997.746,0.052],[1997.766,0.062],[1997.787,0.062],[1997.808,0.067],[1997.828,0.077],[1997.849,0.085],[1997.863,0.101],[1997.880,0.124],[1997.896,0.129],[1997.911,0.101],[1997.931,0.101],[1997.952,0.119],[1997.973,0.121],[1997.987,0.114],[1998.004,0.093],[1998.020,0.080],[1998.034,0.075],[1998.049,0.098],[1998.065,0.126],[1998.082,0.144],[1998.096,0.147],[1998.111,0.165],[1998.127,0.186],[1998.144,0.217],[1998.158,0.217],[1998.173,0.186],[1998.189,0.160],[1998.206,0.144],[1998.226,0.142],[1998.241,0.139],[1998.255,0.119],[1998.272,0.093],[1998.288,0.083],[1998.302,0.075],[1998.317,0.090],[1998.333,0.083],[1998.354,0.072],[1998.375,0.067],[1998.395,0.057],[1998.416,0.065],[1998.436,0.067],[1998.457,0.077],[1998.478,0.088],[1998.498,0.098],[1998.519,0.108],[1998.539,0.124],[1998.560,0.126],[1998.581,0.111],[1998.601,0.108],[1998.622,0.093],[1998.643,0.085],[1998.659,0.101],[1998.673,0.088],[1998.688,0.101],[1998.704,0.114],[1998.721,0.132],[1998.742,0.132],[1998.762,0.160],[1998.777,0.165],[1998.791,0.114],[1998.803,0.036],[1998.816,0.000],[1998.828,0.036],[1998.845,0.075],[1998.861,0.088],[1998.880,0.075],[1998.900,0.049],[1998.921,0.031],[1998.941,0.010],[1998.962,0.003],[1998.983,0.023],[1999.003,0.049],[1999.024,0.062],[1999.045,0.080],[1999.065,0.072],[1999.080,0.049],[1999.096,0.021],[1999.113,0.000],[1999.133,-0.003],[1999.148,0.000],[1999.162,-0.015],[1999.179,-0.045],[1999.195,-0.055],[1999.212,-0.015],[1999.224,0.000],[1999.244,0.015],[1999.271,0.010],[1999.292,0.010],[1999.306,0.015],[1999.323,0.023],[1999.343,0.041],[1999.364,0.057],[1999.385,0.075],[1999.405,0.093],
[1999.421,0.119],[1999.436,0.088],[1999.450,0.070],[1999.463,0.098],[1999.477,0.119],[1999.491,0.072],[1999.504,0.070],[1999.518,0.098],[1999.533,0.119],[1999.549,0.129],[1999.566,0.114],[1999.580,0.075],[1999.594,0.036],[1999.611,0.010],[1999.625,0.023],[1999.642,0.044],[1999.656,0.023],[1999.669,-0.015],[1999.683,0.023],[1999.698,0.062],[1999.714,0.088],[1999.731,0.114],[1999.745,0.119],[1999.759,0.126],[1999.776,0.132],[1999.792,0.126],[1999.807,0.121],[1999.821,0.126],[1999.838,0.124],[1999.854,0.139],[1999.869,0.150],[1999.883,0.165],[1999.895,0.178],[1999.910,0.173],[1999.924,0.155],[1999.941,0.139],[1999.957,0.144],[1999.972,0.150],[1999.986,0.155],[2000.013,0.139],[2000.027,0.126],[2000.044,0.134],[2000.060,0.144],[2000.075,0.160],[2000.089,0.181],[2000.106,0.186],[2000.122,0.191],[2000.137,0.186],[2000.151,0.152],[2000.168,0.114],[2000.184,0.088],[2000.198,0.077],[2000.213,0.098],[2000.229,0.139],[2000.246,0.175],[2000.260,0.186],[2000.275,0.165],[2000.287,0.119],[2000.302,0.062],[2000.316,0.015],[2000.328,0.000],[2000.343,0.023],[2000.357,0.036],[2000.374,0.015],[2000.390,0.000],[2000.405,-0.010],[2000.421,-0.055],[2000.436,-0.015],[2000.452,0.000],[2000.466,0.036],[2000.481,0.088],[2000.493,0.126],[2000.508,0.160],[2000.522,0.175],[2000.539,0.186],[2000.555,0.191],[2000.570,0.196],[2000.584,0.181],[2000.600,0.150],[2000.617,0.119],[2000.631,0.111],[2000.646,0.119],[2000.662,0.134],[2000.679,0.150],[2000.693,0.186],
[2000.724,0.222],[2000.745,0.249],[2000.765,0.256],[2000.786,0.264],[2000.807,0.282],[2000.823,0.290],[2000.838,0.305],[2000.852,0.327],[2000.868,0.346],[2000.881,0.391],[2000.893,0.421],[2000.905,0.428],[2000.920,0.417],[2000.934,0.391],[2000.951,0.380],[2000.967,0.369],[2000.982,0.384],[2000.996,0.406],[2001.013,0.425],[2001.029,0.406],[2001.044,0.380],[2001.058,0.406],[2001.074,0.432],[2001.091,0.421],[2001.105,0.391],[2001.120,0.346],[2001.132,0.294],[2001.147,0.234],[2001.161,0.189],[2001.178,0.159],[2001.192,0.148],[2001.208,0.189],[2001.223,0.170],[2001.239,0.170],[2001.256,0.185],[2001.270,0.174],[2001.285,0.189],[2001.301,0.181],[2001.318,0.178],[2001.332,0.170],[2001.347,0.181],[2001.363,0.226],[2001.380,0.271],[2001.394,0.271],[2001.408,0.226],[2001.425,0.196],[2001.441,0.200],[2001.456,0.211],[2001.470,0.226],[2001.487,0.230],[2001.507,0.219],[2001.528,0.234],[2001.549,0.222],[2001.569,0.215],[2001.590,0.219],[2001.610,0.211],[2001.631,0.219],[2001.648,0.241],[2001.662,0.256],[2001.676,0.271],[2001.693,0.256],[2001.714,0.241],[2001.734,0.234],[2001.755,0.219],[2001.771,0.245],[2001.786,0.339],[2001.800,0.421],[2001.817,0.447],[2001.833,0.436],[2001.854,0.440],[2001.868,0.436],[2001.883,0.451],[2001.899,0.462],[2001.915,0.481],[2001.930,0.451],[2001.944,0.399],[2001.961,0.369],[2001.977,0.331],[2001.992,0.279],[2002.006,0.226],[2002.023,0.170],[2002.039,0.095],[2002.054,0.065],[2002.068,0.091],[2002.085,0.151],[2002.101,0.204],[2002.115,0.211],
[2002.151,0.186],[2002.167,0.191],[2002.184,0.191],[2002.198,0.222],[2002.212,0.243],[2002.225,0.238],[2002.239,0.207],[2002.254,0.166],[2002.270,0.145],[2002.287,0.134],[2002.301,0.129],[2002.316,0.150],[2002.332,0.186],[2002.348,0.228],[2002.363,0.264],[2002.377,0.295],[2002.390,0.315],[2002.404,0.310],[2002.419,0.290],[2002.435,0.269],[2002.452,0.284],[2002.466,0.290],[2002.480,0.295],[2002.497,0.269],[2002.513,0.238],[2002.528,0.217],[2002.542,0.207],[2002.559,0.217],[2002.575,0.238],[2002.590,0.248],[2002.604,0.290],[2002.621,0.341],[2002.637,0.372],[2002.652,0.393],[2002.666,0.409],[2002.678,0.429],[2002.689,0.434],[2002.703,0.419],[2002.720,0.378],[2002.734,0.321],[2002.748,0.269],[2002.765,0.238],[2002.781,0.202],[2002.796,0.186],[2002.810,0.191],[2002.827,0.181],[2002.843,0.150],[2002.858,0.145],[2002.872,0.155],[2002.889,0.160],[2002.905,0.176],[2002.919,0.191],[2002.934,0.191],[2002.950,0.186],[2002.967,0.191],[2002.981,0.207],[2002.996,0.228],[2003.012,0.238],[2003.029,0.269],[2003.043,0.290],[2003.058,0.321],[2003.070,0.331],[2003.084,0.290],[2003.099,0.238],[2003.115,0.197],[2003.132,0.176],[2003.146,0.197],[2003.161,0.207],[2003.177,0.212],[2003.194,0.222],[2003.208,0.238],[2003.223,0.279],[2003.235,0.341],[2003.250,0.403],[2003.260,0.424],[2003.276,0.419],[2003.291,0.372],[2003.305,0.279],[2003.317,0.222],[2003.332,0.238],[2003.346,0.310],[2003.363,0.341],[2003.379,0.367],[2003.394,0.383],[2003.408,0.393],[2003.421,0.424],[2003.435,0.460],[2003.449,0.507],[2003.462,0.502],[2003.470,0.445],[2003.482,0.341],[2003.495,0.248],[2003.507,0.279],[2003.523,0.321],[2003.538,0.331],[2003.552,0.310],[2003.569,0.290],[2003.585,0.295],[2003.600,0.300],[2003.614,0.279],[2003.631,0.238],[2003.647,0.197],[2003.662,0.134],[2003.676,0.083],[2003.688,0.031],[2003.697,-0.041],[2003.709,-0.021],[2003.723,0.031],[2003.738,0.041],[2003.750,0.067],[2003.765,0.057],[2003.779,0.072],[2003.796,0.103],[2003.806,0.119],[2003.816,0.103],[2003.833,0.057],[2003.847,0.031],[2003.862,0.010],[2003.878,0.015],[2003.895,0.026],[2003.909,0.036],[2003.923,0.047],[2003.940,0.041],[2003.956,0.015],[2003.971,-0.010],[2003.985,-0.031],[2004.002,-0.062],[2004.018,-0.078],[2004.033,-0.062],[2004.047,-0.031],[2004.064,0.021],[2004.080,0.036],[2004.095,0.026],[2004.109,0.047],[2004.125,0.083],[2004.136,0.109],[2004.150,0.088],[2004.163,0.098]
];

// Axis ticks and labels
const xTickYears = [1994.0, 1996.0, 1998.0, 2000.0, 2002.0, 2004.0];
const xTickLabels = ["1-3-94", "1-1-96", "1-1-98", "1-3-00", "1-1-02", "1-1-04"];
const yTicks = [-0.2, -0.1, 0.0, 0.1, 0.2, 0.3, 0.4, 0.5, 0.6];
const yAxisTitle = "Percent";

// Annotation texts and arrows (data coordinates)
const annoTexts = [
  {text: "Differential at 7 years", x: 1998.131, y: 0.5457},
  {text: "10 years", x: 2002.083, y: 0.5440},
  {text: "3 years", x: 1997.870, y: 0.3600},
  {text: "5 years", x: 2000.642, y: 0.0377},
  {text: "10 years", x: 1999.372, y: -0.1510},
  {text: "7 years", x: 2001.718, y: -0.1420}
];
const annoArrows = [
  {x1: 2000.815, y1: 0.5398, x2: 2001.798, y2: 0.5398},
  {x1: 2003.085, y1: 0.5410, x2: 2003.383, y2: 0.4770},
  {x1: 1997.746, y1: 0.3540, x2: 1996.066, y2: 0.2800},
  {x1: 1998.828, y1: 0.3540, x2: 2000.106, y2: 0.2800},
  {x1: 2001.503, y1: 0.0467, x2: 2001.621, y2: 0.0947},
  {x1: 1999.325, y1: -0.1357, x2: 1999.238, y2: -0.0552},
  {x1: 2000.414, y1: -0.1535, x2: 2000.414, y2: -0.0552},
  {x1: 2002.683, y1: -0.1400, x2: 2003.683, y2: -0.1530}
];
const zeroBaseline = [-0.0051];

// ---------------- CHART ----------------
const serif = "'Liberation Serif', 'Times New Roman', Times, serif";
const lineOpts = (color) => ({x: d => d[0], y: d => d[1], stroke: color, strokeWidth: 2, strokeLinejoin: "round"});

const chart = Plot.plot({
  width: 1867,
  height: 1137,
  marginLeft: 176,
  marginRight: 42,
  marginTop: 21,
  marginBottom: 82,
  style: {background: "#ffffff", fontFamily: serif, color: "#000000", overflow: "visible"},
  x: {type: "linear", domain: [1994.0, 2004.2]},
  y: {domain: [-0.2, 0.6]},
  marks: [
    Plot.ruleY(yTicks, {stroke: "#000000", strokeWidth: 1.4}),
    Plot.line(series3y, lineOpts("#FF0000")),
    Plot.line(series5y, lineOpts("#FFFF00")),
    Plot.line(series7y, lineOpts("#00FF00")),
    Plot.line(series10y, lineOpts("#00FFFF")),
    Plot.ruleY(zeroBaseline, {stroke: "#000000", strokeWidth: 6.5, insetLeft: -19, insetRight: -13}),
    Plot.frame({stroke: "#000000", strokeWidth: 2.2}),
    Plot.axisY({
      ticks: yTicks, tickSize: 14, tickPadding: 20, strokeWidth: 1.4,
      tickFormat: d => d.toFixed(2), fontSize: 40, fontWeight: "bold", fontFamily: serif, label: null
    }),
    // x tick marks
    Plot.axisX({
      ticks: xTickYears, tickSize: 17, strokeWidth: 1.4, tickFormat: () => "", label: null
    }),
    // x tick labels (slightly right of the ticks, as in the original)
    Plot.axisX({
      ticks: xTickYears, tickSize: 0, tickPadding: 44, dx: 13,
      tickFormat: d => xTickLabels[xTickYears.indexOf(d)], fontSize: 38, fontFamily: serif, label: null
    }),
    Plot.text([yAxisTitle], {
      frameAnchor: "left", textAnchor: "middle", dx: -153, dy: 11, rotate: -90,
      fontSize: 44, fontWeight: "bold", fontFamily: serif, fill: "#000000", ariaLabel: "y-title"
    }),
    Plot.arrow(annoArrows, {
      x1: "x1", y1: "y1", x2: "x2", y2: "y2",
      stroke: "#000000", fill: "#000000", strokeWidth: 1.6, headAngle: 38, headLength: 18
    }),
    Plot.text(annoTexts, {
      x: "x", y: "y", text: "text", textAnchor: "start",
      fontSize: 47, fontFamily: serif, fill: "#000000"
    })
  ]
});

document.getElementById("chart").appendChild(chart);

// Match the original's horizontally stretched / condensed label glyphs
function squeeze(selector, factor) {
  chart.querySelectorAll(selector).forEach(t => {
    const w = t.getComputedTextLength();
    if (w > 0) {
      t.setAttribute("textLength", (w * factor).toFixed(1));
      t.setAttribute("lengthAdjust", "spacingAndGlyphs");
    }
  });
}
squeeze('g[aria-label="y-axis tick label"] text', 1.17);
squeeze('g[aria-label="x-axis tick label"] text', 0.8);
squeeze('g[aria-label="y-title"] text', 1.08);
</script>
</body>
</html>
